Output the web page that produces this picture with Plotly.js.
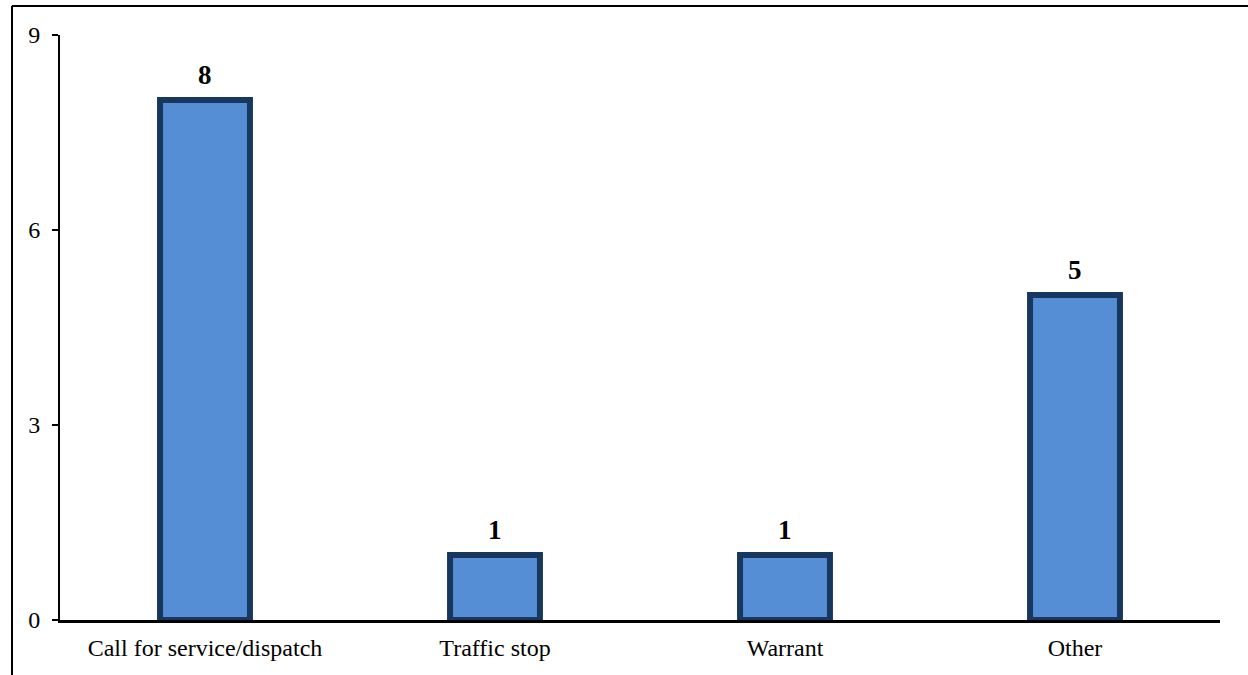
<!DOCTYPE html>
<html>
<head>
<meta charset="utf-8">
<script src="https://cdn.plot.ly/plotly-3.0.1.min.js"></script>
<style>
  html, body { margin: 0; padding: 0; background: #ffffff; }
  #chart { width: 1248px; height: 675px; }
</style>
</head>
<body>
<div id="chart"></div>
<script>
const categories = ["Call for service/dispatch", "Traffic stop", "Warrant", "Other"];
const counts = [8, 1, 1, 5];
const yTicks = [0, 3, 6, 9];

const W = 1248, H = 675;
const margin = { l: 60, r: 28, t: 35, b: 55 };
const pw = W - margin.l - margin.r;
const ph = H - margin.t - margin.b;
const px2x = (px) => (px - margin.l) / pw;
const px2y = (py) => (H - margin.b - py) / ph;
const FONT = "Liberation Serif, Times New Roman, serif";

const trace = {
  type: "bar",
  x: categories,
  y: counts,
  width: 0.31,
  marker: {
    color: "#558ED5",
    line: { color: "#17375E", width: 6 }
  },
  hoverinfo: "x+y",
  cliponaxis: false
};

const annotations = categories.map((c, i) => ({
  x: c,
  y: counts[i],
  xref: "x",
  yref: "y",
  text: "<b>" + counts[i] + "</b>",
  showarrow: false,
  yanchor: "bottom",
  yshift: 8,
  font: { family: FONT, size: 27, color: "#000000" }
}));

const layout = {
  width: W,
  height: H,
  margin: margin,
  paper_bgcolor: "#ffffff",
  plot_bgcolor: "#ffffff",
  showlegend: false,
  font: { family: FONT, size: 24, color: "#000000" },
  xaxis: {
    type: "category",
    range: [-0.5, categories.length - 0.5],
    showline: true,
    linecolor: "#000000",
    linewidth: 3,
    ticks: "",
    ticklabelstandoff: 4,
    showgrid: false,
    zeroline: false,
    tickfont: { family: FONT, size: 24, color: "#000000" },
    fixedrange: true
  },
  yaxis: {
    range: [0, 9],
    tickvals: yTicks,
    ticktext: yTicks.map(String),
    showline: true,
    linecolor: "#000000",
    linewidth: 2,
    ticks: "outside",
    ticklen: 6,
    tickwidth: 2,
    tickcolor: "#000000",
    ticklabelstandoff: 7,
    showgrid: false,
    zeroline: false,
    tickfont: { family: FONT, size: 24, color: "#000000" },
    fixedrange: true
  },
  annotations: annotations,
  shapes: [
    {
      type: "line", xref: "paper", yref: "paper",
      x0: px2x(12), x1: px2x(12), y0: px2y(6), y1: px2y(H + 5),
      line: { color: "#000000", width: 2 }
    },
    {
      type: "line", xref: "paper", yref: "paper",
      x0: px2x(12), x1: px2x(W + 5), y0: px2y(6), y1: px2y(6),
      line: { color: "#000000", width: 2 }
    }
  ]
};

Plotly.newPlot("chart", [trace], layout, { displayModeBar: false, staticPlot: true });
</script>
</body>
</html>
